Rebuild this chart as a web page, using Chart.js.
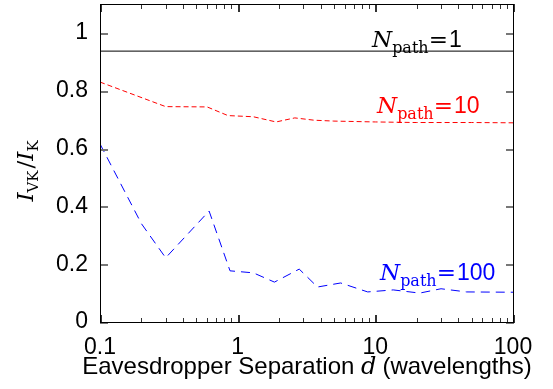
<!DOCTYPE html>
<html>
<head>
<meta charset="utf-8">
<script src="https://cdn.jsdelivr.net/npm/chart.js@4/dist/chart.umd.min.js"></script>
<style>
  html, body { margin: 0; padding: 0; background: #fff; }
  #wrap { width: 553px; height: 389px; }
</style>
</head>
<body>
<div id="wrap"><canvas id="chart" width="553" height="389"></canvas></div>
<script>
// values
const xBlack = [0.1, 100];
const yBlack = [0.937, 0.937];

const xRed = [0.1, 0.3, 0.6, 0.85, 1.3, 1.9, 2.6, 3.6, 5, 10, 20, 50, 100];
const yRed = [0.83, 0.745, 0.744, 0.714, 0.71, 0.692, 0.706, 0.698, 0.695, 0.692, 0.69, 0.69, 0.689];

const xBlue = [0.1, 0.2, 0.3, 0.62, 0.88, 1.3, 1.85, 2.8, 3.8, 5.6, 8.8, 13.5, 21, 30, 46, 100];
const yBlue = [0.616, 0.34, 0.222, 0.384, 0.177, 0.17, 0.138, 0.183, 0.121, 0.135, 0.104, 0.111, 0.1, 0.115, 0.104, 0.103];

const xTickLabels = [0.1, 1, 10, 100];
const yTickLabels = [0, 0.2, 0.4, 0.6, 0.8, 1];

const SANS = '"Liberation Sans", Arial, sans-serif';
const SERIF = '"DejaVu Serif", serif';

function pts (xs, ys) {
  return xs.map((x, i) => ({ x: x, y: ys[i] }));
}

// draws a run of differently styled pieces, left to right
function drawRich (ctx, parts, x, y, color) {
  ctx.fillStyle = color;
  ctx.textBaseline = 'alphabetic';
  ctx.textAlign = 'left';
  let cx = x;
  parts.forEach(p => {
    ctx.font = p.font;
    ctx.fillText(p.t, cx, y + (p.dy || 0));
    cx += ctx.measureText(p.t).width + (p.gap || 0);
  });
  return cx - x;
}

function richWidth (ctx, parts) {
  let w = 0;
  parts.forEach(p => {
    ctx.font = p.font;
    w += ctx.measureText(p.t).width + (p.gap || 0);
  });
  return w;
}

function npath (n) {
  return [
    { t: 'N', font: 'italic 23px ' + SERIF },
    { t: 'path', font: '16px ' + SERIF, dy: 6 },
    { t: '=', font: '23px ' + SERIF, gap: 1 },
    { t: n, font: '23px ' + SANS }
  ];
}

// decade and in-between tick positions for the log axis
const xTickMarks = [];
[0.1, 1, 10].forEach(d => {
  for (let k = 1; k < 10; k++) xTickMarks.push(d * k);
});
xTickMarks.push(100);

const frame = {
  id: 'frame',
  afterDraw (chart) {
    const ctx = chart.ctx;
    const a = chart.chartArea;
    const xs = chart.scales.x;
    const ys = chart.scales.y;
    const L = Math.round(a.left), R = Math.round(a.right);
    const T = Math.round(a.top), B = Math.round(a.bottom);
    ctx.save();

    // ticks pointing inwards, on all four sides
    ctx.fillStyle = '#777';
    yTickLabels.forEach(v => {
      const py = Math.round(ys.getPixelForValue(v));
      ctx.fillRect(L, py, 8, 2);
      ctx.fillRect(R - 7, py, 8, 2);
    });
    ctx.fillStyle = '#333';
    xTickMarks.forEach(v => {
      const l = Math.log10(v);
      const major = Math.abs(l - Math.round(l)) < 1e-6;
      const len = major ? 8 : 5;
      const px = Math.round(xs.getPixelForValue(v));
      ctx.fillRect(px, B - len + 1, major ? 2 : 1, len);
      ctx.fillRect(px, T, major ? 2 : 1, len);
    });

    ctx.fillStyle = '#000';
    ctx.fillRect(L, T, R - L + 1, 1);
    ctx.fillRect(L, B, R - L + 1, 1);
    ctx.fillRect(L, T, 1, B - T + 1);
    ctx.fillRect(R, T, 1, B - T + 1);

    // curve labels
    drawRich(ctx, npath('1'), 372, 47, '#000');
    drawRich(ctx, npath('10'), 377, 113, '#ff0000');
    drawRich(ctx, npath('100'), 380, 280, '#0000ff');

    // x axis title
    const xt = [
      { t: 'Eavesdropper Separation ', font: '24px ' + SANS },
      { t: 'd', font: 'italic 24px ' + SERIF, gap: 6 },
      { t: '(wavelengths)', font: '24px ' + SANS }
    ];
    const w = richWidth(ctx, xt);
    drawRich(ctx, xt, 307 - w / 2, 374, '#000');

    // y axis title, rotated
    const yt = [
      { t: 'I', font: 'italic 23px ' + SERIF },
      { t: 'VK', font: '15px ' + SERIF, dy: 5, gap: 2 },
      { t: '/', font: '23px ' + SERIF },
      { t: 'I', font: 'italic 23px ' + SERIF },
      { t: 'K', font: '15px ' + SERIF, dy: 5 }
    ];
    const wy = richWidth(ctx, yt);
    ctx.translate(33, 171);
    ctx.rotate(-Math.PI / 2);
    drawRich(ctx, yt, -wy / 2, 0, '#000');

    ctx.restore();
  }
};

new Chart(document.getElementById('chart'), {
  type: 'line',
  data: {
    datasets: [
      {
        label: 'Npath=1',
        data: pts(xBlack, yBlack),
        borderColor: '#000',
        borderWidth: 1
      },
      {
        label: 'Npath=10',
        data: pts(xRed, yRed),
        borderColor: '#ff0000',
        borderWidth: 1,
        borderDash: [5, 3]
      },
      {
        label: 'Npath=100',
        data: pts(xBlue, yBlue),
        borderColor: '#0000ff',
        borderWidth: 1,
        borderDash: [9, 6]
      }
    ]
  },
  options: {
    responsive: false,
    animation: false,
    layout: { padding: { top: 4, right: 40, left: 0, bottom: 0 } },
    elements: { point: { radius: 0 }, line: { tension: 0 } },
    plugins: {
      legend: { display: false },
      tooltip: { enabled: false }
    },
    scales: {
      x: {
        type: 'logarithmic',
        min: 0.1,
        max: 100,
        afterFit: s => { s.height = 67; s.paddingLeft = 0; s.paddingRight = 0; },
        grid: { display: false, drawTicks: false },
        border: { display: false },
        ticks: {
          autoSkip: false,
          maxRotation: 0,
          padding: 12,
          color: '#000',
          font: { family: SANS, size: 23 },
          callback: v => xTickLabels.some(t => Math.abs(t - v) < 1e-9) ? String(v) : ''
        }
      },
      y: {
        min: 0,
        max: 1.1,
        afterFit: s => { s.width = 100; s.paddingTop = 0; s.paddingBottom = 0; },
        grid: { display: false, drawTicks: false },
        border: { display: false },
        ticks: {
          stepSize: 0.2,
          padding: 12,
          color: '#000',
          font: { family: SANS, size: 23 },
          callback: v => yTickLabels.some(t => Math.abs(t - v) < 1e-9) ? String(Number(v.toFixed(1))) : ''
        }
      }
    }
  },
  plugins: [frame]
});
</script>
</body>
</html>
